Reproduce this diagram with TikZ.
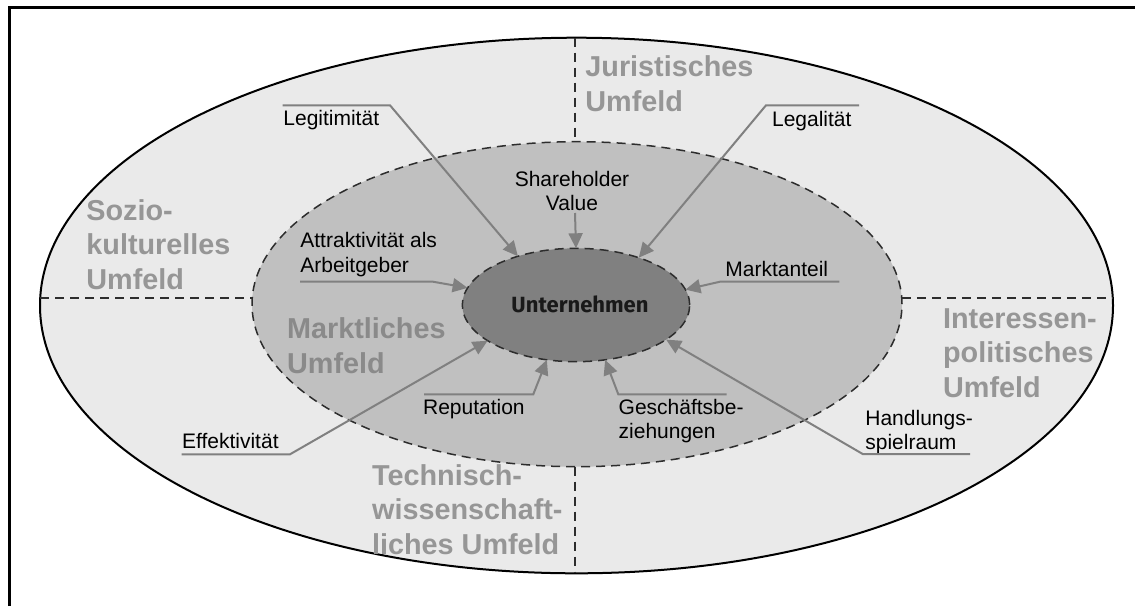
\documentclass[tikz,border=0pt]{standalone}
\usepackage{fontspec}
\setmainfont{Liberation Sans}
\newfontfamily\firafont{Fira Sans}
\usetikzlibrary{shapes.geometric,arrows.meta}
\definecolor{outerfill}{RGB}{234,234,234}
\definecolor{midfill}{RGB}{192,192,192}
\definecolor{innerfill}{RGB}{128,128,128}
\definecolor{arrowgray}{RGB}{128,128,128}
\definecolor{biggray}{RGB}{150,150,150}
\definecolor{dashgray}{RGB}{45,45,45}
\tikzset{
  lbl/.style={font=\fontsize{10.5}{12}\selectfont, inner sep=0pt, align=left, anchor=base west},
  big/.style={font=\fontsize{14.4}{17.25}\selectfont\bfseries, text=biggray, inner sep=0pt, align=left, anchor=base west},
  conn/.style={draw=arrowgray, line width=1pt, -{Triangle[length=7.5pt,width=7pt]}},
  divider/.style={draw=dashgray, line width=0.75pt, dash pattern=on 4.5pt off 3pt},
  ellipsebox/.style={ellipse, inner sep=0pt, outer sep=0pt},
}
\begin{document}
\begin{tikzpicture}[x=0.5pt,y=-0.5pt]
\useasboundingbox (0,0) rectangle (1135,606);
% frame
\draw[line width=1.5pt] (9,606) -- (9,7.5) -- (1135,7.5);
% outer ellipse
\node[ellipsebox, draw=black, line width=1pt, fill=outerfill, minimum width=536.5pt, minimum height=267.8pt] (outer) at (576.5,305.5) {};
% dividers
\coordinate (dl1) at (40.4,298);
\coordinate (dl2) at (252.1,298);
\coordinate (dr1) at (901.9,298);
\coordinate (dr2) at (1112.6,298);
\coordinate (dt1) at (575,37.7);
\coordinate (dt2) at (575,141.7);
\coordinate (db1) at (575,466.7);
\coordinate (db2) at (575,573.3);
\draw[divider] (dl1) -- (dl2);
\draw[divider] (dr1) -- (dr2);
\draw[divider] (dt1) -- (dt2);
\draw[divider] (db1) -- (db2);
% middle ellipse
\node[ellipsebox, draw=dashgray, line width=0.75pt, dash pattern=on 4.5pt off 3pt, fill=midfill, minimum width=325pt, minimum height=162.5pt] (middle) at (577,304.2) {};
% inner ellipse
\node[ellipsebox, draw=dashgray, line width=0.75pt, dash pattern=on 4.5pt off 3pt, fill=innerfill, minimum width=113.7pt, minimum height=56.7pt] (inner) at (576,305) {};
\node[font=\firafont\bfseries\fontsize{11}{13}\selectfont, text=black!90, inner sep=0pt] (unt) at (580,304) {Unternehmen};
% big grey labels (base = last line)
\node[big] (jur) at (585,111.2) {Juristisches\\Umfeld};
\node[big] (sozio) at (86,289) {Sozio-\\kulturelles\\Umfeld};
\node[big, text=biggray!92!black] (marktl) at (286.7,373) {Marktliches\\Umfeld};
\node[big] (tech) at (371.7,554) {Technisch-\\wissenschaft-\\liches Umfeld};
\node[big] (inter) at (942.7,397) {Interessen-\\politisches\\Umfeld};
% labels
\node[lbl] (legit) at (283,125.7) {Legitimität};
\node[lbl] (legal) at (771.7,126.7) {Legalität};
\node[lbl, align=center, anchor=base] (share) at (572,210.7) {Shareholder\\Value};
\node[lbl, font=\fontsize{10.5}{12.75}\selectfont] (attr) at (300,272.5) {Attraktivität als\\Arbeitgeber};
\node[lbl] (markt) at (725,276.7) {Marktanteil};
\node[lbl] (effekt) at (181.7,448.3) {Effektivität};
\node[lbl] (reput) at (422.7,414.5) {Reputation};
\node[lbl] (gesch) at (618.3,438) {Geschäftsbe-\\ziehungen};
\node[lbl] (handl) at (865,449.5) {Handlungs-\\spielraum};
% connector coordinates
\coordinate (a1) at (282.7,105.3); \coordinate (b1) at (390,105.3);
\coordinate (a2) at (859,105.3);   \coordinate (b2) at (766,105.3);
\coordinate (a3) at (575,213);
\coordinate (a4) at (300,281.7);   \coordinate (b4) at (433,281.7);
\coordinate (a5) at (839.3,281.7); \coordinate (b5) at (720,281.7);
\coordinate (a6) at (181.7,454.3); \coordinate (b6) at (290,454.3);
\coordinate (a7) at (424,394.3);   \coordinate (b7) at (533.3,394.3);
\coordinate (a8) at (726.7,394.3); \coordinate (b8) at (618.3,394.3);
\coordinate (a9) at (970,454);     \coordinate (b9) at (862.7,454);
% connectors
\draw[conn] (a1) -- (b1) -- (inner.140.6);
\draw[conn] (a2) -- (b2) -- (inner.37.5);
\draw[conn] (a3) -- (inner.90);
\draw[conn] (a4) -- (b4) -- (inner.171.7);
\draw[conn] (a5) -- (b5) -- (inner.8.4);
\draw[conn] (a6) -- (b6) -- (inner.202.2);
\draw[conn] (a7) -- (b7) -- (inner.242.2);
\draw[conn] (a8) -- (b8) -- (inner.298.6);
\draw[conn] (a9) -- (b9) -- (inner.339);
\end{tikzpicture}
\end{document}
